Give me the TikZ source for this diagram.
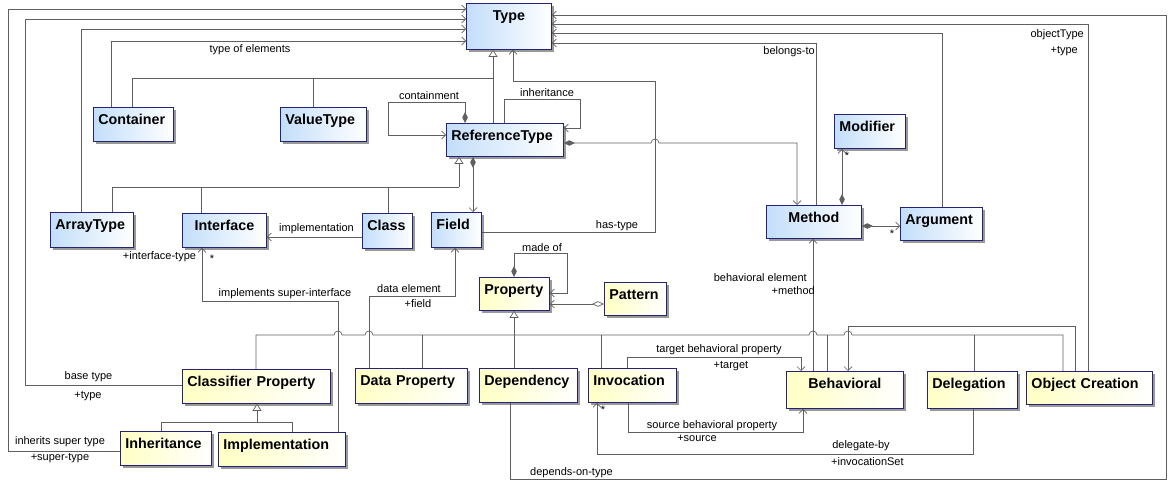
\documentclass[tikz,border=0pt]{standalone}
\usepackage{fontspec}
\setmainfont{Liberation Sans}
\usetikzlibrary{arrows.meta,shadows}
\definecolor{clsblue}{RGB}{195,222,250}
\definecolor{propyellow}{RGB}{255,255,196}
\definecolor{clsborder}{RGB}{35,35,120}
\definecolor{wire}{RGB}{95,95,95}
\tikzset{
	cls/.style={draw=clsborder, line width=.8pt, anchor=north west, inner xsep=5pt, inner ysep=0pt, align=left, text height=17.5pt, font=\fontsize{14.3}{16}\selectfont\bfseries, drop shadow={shadow xshift=2.5pt, shadow yshift=-2.5pt, fill=black!40, opacity=1}},
	typebox/.style={cls, left color=clsblue, right color=white},
	propbox/.style={cls, left color=propyellow, right color=white},
	lbl/.style={inner sep=0pt, font=\fontsize{11}{13}\selectfont},
	wireline/.style={draw=wire, line width=.7pt},
	assoc/.style={wireline, -{Straight Barb[length=4pt,width=8pt]}},
	comp/.style={wireline, {Diamond[length=11pt,width=5.5pt]}-{Straight Barb[length=4pt,width=8pt]}},
	agg/.style={wireline, {Diamond[open,length=12pt,width=5.5pt,fill=white]}-{Straight Barb[length=4pt,width=8pt]}},
	gen/.style={wireline, -{Triangle[open,length=7pt,width=9pt,fill=white]}},
}
\begin{document}
\begin{tikzpicture}[x=1pt, y=-1pt]
				\useasboundingbox (0,0) rectangle (1169,484);
				\node[typebox, text width=75pt, align=center, text depth=28.5pt] (type) at (466,3) {Type};
				\node[typebox, text width=70pt, text depth=16.5pt] (container) at (93,107) {Container};
				\node[typebox, text width=76pt, text depth=16.5pt] (valuetype) at (280,107) {ValueType};
				\node[typebox, text width=107pt, text depth=15.5pt] (reftype) at (446,123) {ReferenceType};
				\node[typebox, text width=73pt, text depth=17.5pt] (arraytype) at (50,212) {ArrayType};
				\node[typebox, text width=74pt, align=center, text depth=16.5pt] (interface) at (182,213) {Interface};
				\node[typebox, text width=40pt, text depth=17.5pt] (class) at (362,213) {Class};
				\node[typebox, text width=40pt, text depth=17.5pt] (field) at (431,212) {Field};
				\node[typebox, text width=85pt, align=center, text depth=15.5pt] (method) at (766,205) {Method};
				\node[typebox, text width=61pt, text depth=16.5pt] (modifier) at (834,114) {Modifier};
				\node[typebox, text width=72pt, text depth=15.5pt] (argument) at (900,207) {Argument};
				\node[propbox, text width=60pt, text depth=15.5pt] (property) at (479,277) {Property};
				\node[propbox, text width=52pt, text depth=15.5pt] (pattern) at (604,282) {Pattern};
				\node[propbox, text width=138pt, text depth=16.5pt] (classprop) at (182,369) {Classifier Property};
				\node[propbox, text width=102pt, text depth=17.5pt] (dataprop) at (355,368) {Data Property};
				\node[propbox, text width=88pt, text depth=16.5pt] (dependency) at (479,368) {Dependency};
				\node[propbox, text width=78pt, text depth=16.5pt] (invocation) at (588,368) {Invocation};
				\node[propbox, text width=107pt, align=center, text depth=19.5pt] (behavioral) at (786,371) {Behavioral};
				\node[propbox, text width=80pt, text depth=19.5pt] (delegation) at (927,371) {Delegation};
				\node[propbox, text width=116pt, text depth=15.5pt] (objcreation) at (1026,371) {Object Creation};
				\node[propbox, text width=81pt, text depth=16.5pt] (inheritance) at (120,431) {Inheritance};
				\node[propbox, text width=117pt, text depth=16.5pt] (implementation) at (218,432) {Implementation};
				\draw[assoc] (inheritance.west |- 0,451) -- (8,451) -- (8,9) -- (type.west |- 0,9);
				\draw[assoc] (classprop.west |- 0,385) -- (25,385) -- (25,19) -- (type.west |- 0,19);
				\draw[assoc] (arraytype.north -| 81,0) -- (81,29) -- (type.west |- 0,29);
				\draw[assoc] (container.north -| 111,0) -- (111,41) -- (type.west |- 0,41);
				\draw[assoc] (dependency.south -| 510,0) -- (510,479) -- (1166,479) -- (1166,15) -- (type.east |- 0,15);
				\draw[assoc] (objcreation.north -| 1088,0) -- (1088,24) -- (type.east |- 0,24);
				\draw[assoc] (argument.north -| 942,0) -- (942,33) -- (type.east |- 0,33);
				\draw[assoc] (method.north -| 816,0) -- (816,43) -- (type.east |- 0,43);
				\draw[gen] (reftype.north -| 493,0) -- (type.south -| 493,0);
				\draw[wireline] (container.north -| 132,0) -- (132,78) -- (493,78);
				\draw[wireline] (valuetype.north -| 313,0) -- (313,78);
				\draw[assoc] (field.east |- 0,232) -- (655,232) -- (655,81) -- (513,81) -- (type.south -| 513,0);
				\draw[comp] (reftype.east |- 0,143) -- (651,143) arc[start angle=180, end angle=0, radius=4pt] -- (797,143) -- (method.north -| 797,0);
				\draw[comp] (reftype.north -| 465,0) -- (465,102) -- (388,102) -- (388,135) -- (reftype.west |- 0,135);
				\draw[assoc] (reftype.north -| 504,0) -- (504,99) -- (580,99) -- (580,128) -- (reftype.east |- 0,128);
				\draw[gen] (459,187) -- (reftype.south -| 459,0);
				\draw[wireline] (arraytype.north -| 112,0) -- (112,187) -- (459,187);
				\draw[wireline] (interface.north -| 201,0) -- (201,187);
				\draw[wireline] (class.north -| 388,0) -- (388,187);
				\draw[comp] (reftype.south -| 473,0) -- (field.north -| 473,0);
				\draw[assoc] (class.west |- 0,237) -- (interface.east |- 0,237);
				\draw[comp] (method.north -| 842,0) -- (modifier.south -| 842,0);
				\draw[comp] (method.east |- 0,226) -- (argument.west |- 0,226);
				\draw[assoc] (behavioral.north -| 813,0) -- (method.south -| 813,0);
				\draw[gen] (dependency.north -| 514,0) -- (property.south -| 514,0);
				\draw[wireline] (classprop.north -| 256,0) -- (256,335) -- (334,335) arc[start angle=180, end angle=0, radius=4pt] -- (365,335) arc[start angle=180, end angle=0, radius=4pt] -- (809,335) arc[start angle=180, end angle=0, radius=4pt] -- (844,335) arc[start angle=180, end angle=0, radius=4pt] -- (1063,335) -- (objcreation.north -| 1063,0);
				\draw[wireline] (dataprop.north -| 422,0) -- (422,335);
				\draw[wireline] (invocation.north -| 601,0) -- (601,335);
				\draw[wireline] (behavioral.north -| 827,0) -- (827,335);
				\draw[wireline] (delegation.north -| 974,0) -- (974,335);
				\draw[assoc] (objcreation.north -| 1075,0) -- (1075,326) -- (848,326) -- (behavioral.north -| 848,0);
				\draw[assoc] (invocation.north -| 627,0) -- (627,357) -- (801,357) -- (behavioral.north -| 801,0);
				\draw[assoc] (invocation.south -| 628,0) -- (628,432) -- (803,432) -- (behavioral.south -| 803,0);
				\draw[assoc] (delegation.south -| 973,0) -- (973,454) -- (597,454) -- (invocation.south -| 597,0);
				\draw[comp] (property.north -| 514,0) -- (514,253) -- (567,253) -- (567,293) -- (property.east |- 0,293);
				\draw[agg] (pattern.west |- 0,304) -- (property.east |- 0,304);
				\draw[assoc] (dataprop.north -| 369,0) -- (369,296) -- (455,296) -- (field.south -| 455,0);
				\draw[assoc] (implementation.north -| 338,0) -- (338,301) -- (202,301) -- (interface.south -| 202,0);
				\draw[gen] (257,422) -- (classprop.south -| 257,0);
				\draw[wireline] (inheritance.north -| 161,0) -- (161,422) -- (292,422) -- (implementation.north -| 292,0);
				\node[lbl] (l-inh) at (60,442) {inherits super type};
				\node[lbl] (l-supertype) at (60,458) {+super-type};
				\node[lbl] (l-base) at (88.5,377) {base type};
				\node[lbl] (l-basetype) at (88,396) {+type};
				\node[lbl] (l-elem) at (250,50) {type of elements};
				\node[lbl] (l-dep) at (571.5,473) {depends-on-type};
				\node[lbl, anchor=east] (l-obj) at (1084,35) {objectType};
				\node[lbl, anchor=east] (l-objtype) at (1078,51.5) {+type};
				\node[lbl, anchor=east] (l-belongs) at (815,52) {belongs-to};
				\node[lbl] (l-contain) at (429,96) {containment};
				\node[lbl] (l-inherit) at (547,93) {inheritance};
				\node[lbl] (l-impl) at (316.5,229) {implementation};
				\node[lbl] (l-hastype) at (617,226) {has-type};
				\node[lbl] (l-mod-star) at (847,156) {*};
				\node[lbl] (l-arg-star) at (892,234) {*};
				\node[lbl, anchor=east] (l-behav) at (807,278) {behavioral element};
				\node[lbl, anchor=east] (l-method) at (815,291) {+method};
				\node[lbl] (l-madeof) at (542,248) {made of};
				\node[lbl] (l-data) at (409,289) {data element};
				\node[lbl] (l-field) at (418,304) {+field};
				\node[lbl] (l-super) at (285,294) {implements super-interface};
				\node[lbl] (l-ifacetype) at (159.5,257) {+interface-type};
				\node[lbl] (l-iface-star) at (212,259) {*};
				\node[lbl] (l-target) at (719,350) {target behavioral property};
				\node[lbl] (l-tgt) at (731,366) {+target};
				\node[lbl] (l-source) at (712,426) {source behavioral property};
				\node[lbl] (l-src) at (697,438) {+source};
				\node[lbl] (l-inv-star) at (603,410) {*};
				\node[lbl] (l-deleg) at (861,446) {delegate-by};
				\node[lbl, anchor=west] (l-invset) at (831,462) {+invocationSet};
			\end{tikzpicture}
\end{document}
